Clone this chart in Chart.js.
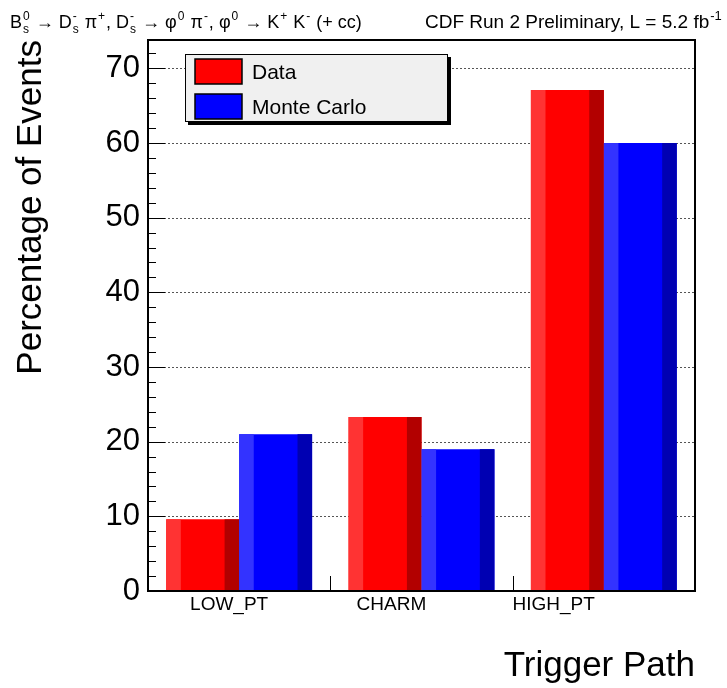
<!DOCTYPE html>
<html>
<head>
<meta charset="utf-8">
<script src="https://cdn.jsdelivr.net/npm/chart.js@4/dist/chart.umd.min.js"></script>
<style>
  html, body { margin: 0; padding: 0; background: #fff; }
  canvas { display: block; }
</style>
</head>
<body>
<canvas id="c" width="727" height="688"></canvas>
<script>
const triggerPaths = ["LOW_PT", "CHARM", "HIGH_PT"];
const dataPct = [9.6, 23.3, 67.1];
const monteCarloPct = [21.0, 19.0, 60.0];
const yTickValues = [0, 10, 20, 30, 40, 50, 60, 70];
const yMax = 73.8;

const FONT = "'Liberation Sans', Arial, Helvetica, sans-serif";

// dotted horizontal grid, drawn under the bars
const dottedGrid = {
  id: "dottedGrid",
  beforeDatasetsDraw(chart) {
    const { ctx, chartArea: a, scales: { y } } = chart;
    ctx.save();
    ctx.strokeStyle = "#555";
    ctx.lineWidth = 1;
    ctx.setLineDash([2, 2]);
    for (const v of yTickValues) {
      if (v === 0) continue;
      const py = Math.round(y.getPixelForValue(v)) + 0.5;
      ctx.beginPath();
      ctx.moveTo(a.left, py);
      ctx.lineTo(a.right, py);
      ctx.stroke();
    }
    ctx.restore();
  }
};

// lighter strip on the left, darker strip on the right of every bar
const shadeBars = {
  id: "shadeBars",
  afterDatasetsDraw(chart) {
    const ctx = chart.ctx;
    chart.data.datasets.forEach((ds, i) => {
      chart.getDatasetMeta(i).data.forEach(bar => {
        const { x, y, base, width } = bar.getProps(["x", "y", "base", "width"], true);
        const left = x - width / 2;
        const strip = width * 0.2;
        ctx.fillStyle = ds.lightColor;
        ctx.fillRect(left, y, strip, base - y);
        ctx.fillStyle = ds.darkColor;
        ctx.fillRect(left + width - strip, y, strip, base - y);
      });
    });
  }
};

function drawRich(ctx, x, y, parts, size) {
  const small = Math.round(size * 0.68);
  ctx.textBaseline = "alphabetic";
  ctx.textAlign = "left";
  for (const p of parts) {
    if (p.t) {
      ctx.font = `${size}px ${FONT}`;
      ctx.fillText(p.t, x, y);
      x += ctx.measureText(p.t).width;
    } else {
      ctx.font = `${small}px ${FONT}`;
      let w = 0;
      if (p.sup) {
        ctx.fillText(p.sup, x + 1, y - size * 0.42);
        w = Math.max(w, ctx.measureText(p.sup).width);
      }
      if (p.sub) {
        ctx.fillText(p.sub, x + 1, y + size * 0.28);
        w = Math.max(w, ctx.measureText(p.sub).width);
      }
      x += w + 2;
    }
  }
}

// frame, ticks, category labels, legend and the header lines
const rootFrame = {
  id: "rootFrame",
  afterDraw(chart) {
    const { ctx, chartArea: a, scales: { x, y } } = chart;
    ctx.save();
    ctx.strokeStyle = "#000";
    ctx.fillStyle = "#000";
    ctx.lineWidth = 1;
    for (let v = 0; v <= yMax; v += 2) {
      const py = Math.round(y.getPixelForValue(v)) + 0.5;
      const len = v % 10 === 0 ? 17 : 8;
      ctx.beginPath();
      ctx.moveTo(a.left, py);
      ctx.lineTo(a.left + len, py);
      ctx.stroke();
    }
    for (let i = 0; i < triggerPaths.length - 1; i++) {
      const px = Math.round((x.getPixelForValue(i) + x.getPixelForValue(i + 1)) / 2) + 0.5;
      ctx.beginPath();
      ctx.moveTo(px, a.bottom);
      ctx.lineTo(px, a.bottom - 15);
      ctx.stroke();
    }
    ctx.lineWidth = 2;
    ctx.strokeRect(a.left, a.top, a.right - a.left, a.bottom - a.top);

    ctx.font = `19px ${FONT}`;
    ctx.textAlign = "center";
    ctx.textBaseline = "middle";
    triggerPaths.forEach((t, i) => {
      const px = a.left + (x.getPixelForValue(i) - a.left) * 0.89;
      ctx.fillText(t, px, a.bottom + 14);
    });

    // legend box with drop shadow
    const lx = 185, ly = 54, lw = 263, lh = 68;
    ctx.fillStyle = "#000";
    ctx.fillRect(lx + 3, ly + 3, lw, lh);
    ctx.fillStyle = "#f0f0f0";
    ctx.fillRect(lx, ly, lw, lh);
    ctx.lineWidth = 1;
    ctx.strokeRect(lx + 0.5, ly + 0.5, lw - 1, lh - 1);
    chart.data.datasets.forEach((ds, i) => {
      const sy = 59 + i * 35;
      ctx.fillStyle = ds.backgroundColor;
      ctx.fillRect(195, sy, 47, 25);
      ctx.lineWidth = 1.5;
      ctx.strokeRect(195, sy, 47, 25);
      ctx.fillStyle = "#000";
      ctx.font = `21px ${FONT}`;
      ctx.textAlign = "left";
      ctx.textBaseline = "middle";
      ctx.fillText(ds.label, 252, sy + 14);
    });

    ctx.fillStyle = "#000";
    drawRich(ctx, 10, 28, [
      { t: "B" }, { sup: "0", sub: "s" },
      { t: " \u2192 D" }, { sup: "-", sub: "s" },
      { t: " \u03c0" }, { sup: "+" },
      { t: ", D" }, { sup: "-", sub: "s" },
      { t: " \u2192 \u03c6" }, { sup: "0" },
      { t: " \u03c0" }, { sup: "-" },
      { t: ", \u03c6" }, { sup: "0" },
      { t: " \u2192 K" }, { sup: "+" },
      { t: " K" }, { sup: "-" },
      { t: " (+ cc)" }
    ], 18);
    drawRich(ctx, 425, 28, [
      { t: "CDF Run 2 Preliminary, L = 5.2 fb" }, { sup: "-1" }
    ], 19);
    ctx.restore();
  }
};

new Chart(document.getElementById("c"), {
  type: "bar",
  data: {
    labels: triggerPaths,
    datasets: [
      {
        label: "Data",
        data: dataPct,
        backgroundColor: "#ff0000",
        lightColor: "#ff3333",
        darkColor: "#b20000",
        borderWidth: 0
      },
      {
        label: "Monte Carlo",
        data: monteCarloPct,
        backgroundColor: "#0000ff",
        lightColor: "#3333ff",
        darkColor: "#0000b2",
        borderWidth: 0
      }
    ]
  },
  options: {
    responsive: false,
    animation: false,
    devicePixelRatio: 1,
    categoryPercentage: 0.8,
    barPercentage: 1.0,
    layout: { padding: { top: 40, right: 32, left: 0, bottom: 0 } },
    plugins: {
      legend: { display: false },
      tooltip: { enabled: false },
      title: { display: false }
    },
    scales: {
      x: {
        grid: { display: false },
        border: { display: false },
        ticks: { display: false },
        title: {
          display: true,
          text: "Trigger Path",
          align: "end",
          color: "#000",
          font: { family: FONT, size: 35 },
          padding: { top: 0, bottom: 1 }
        },
        afterFit(scale) { scale.height = 97; }
      },
      y: {
        min: 0,
        max: yMax,
        grid: { display: false },
        border: { display: false },
        afterBuildTicks(scale) {
          scale.ticks = yTickValues.map(v => ({ value: v }));
        },
        ticks: {
          color: "#000",
          padding: 0,
          font: { family: FONT, size: 31 }
        },
        title: {
          display: true,
          text: "Percentage of Events",
          align: "end",
          color: "#000",
          font: { family: FONT, size: 35 },
          padding: { top: 10, bottom: 0 }
        },
        afterFit(scale) { scale.width = 148; }
      }
    }
  },
  plugins: [dottedGrid, shadeBars, rootFrame]
});
</script>
</body>
</html>
